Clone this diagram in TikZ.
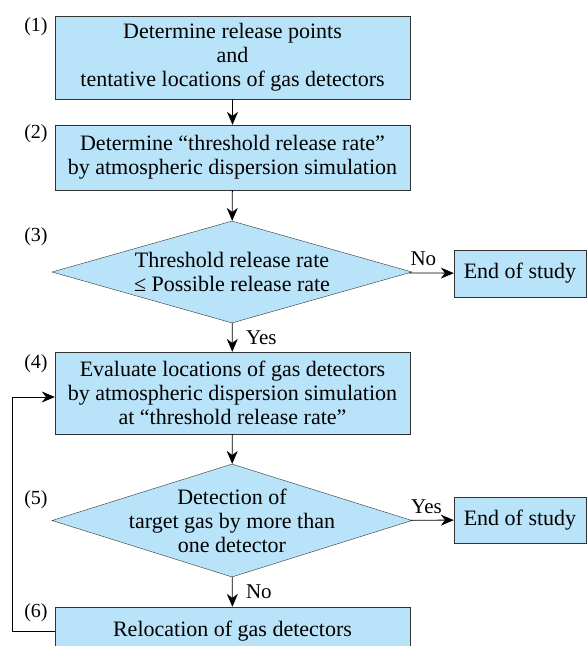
\documentclass[tikz,border=0pt]{standalone}
\usepackage{fontspec}
\setmainfont{Liberation Serif}
\usepackage{xcolor}
\usepackage{tikz}
\usetikzlibrary{positioning, arrows.meta, shapes.geometric}
\definecolor{boxblue}{HTML}{B9E3F8}
\definecolor{edgegray}{HTML}{333333}

\begin{document}
\begin{tikzpicture}[x=1pt, y=-1pt,
    stepbox/.style={draw=edgegray, fill=boxblue, rectangle, align=center, inner sep=0pt, minimum width=355pt, font=\fontsize{22}{24}\selectfont},
    decision/.style={draw=edgegray, fill=boxblue, diamond, inner sep=0pt, minimum width=360pt,
        label={[align=center, font=\fontsize{22}{24}\selectfont]center:#1}},
    endbox/.style={draw=edgegray, fill=boxblue, rectangle, align=center, inner sep=0pt, minimum width=132pt, font=\fontsize{22}{24}\selectfont},
    numlabel/.style={font=\fontsize{20}{22}\selectfont},
    answer/.style={font=\fontsize{21}{22}\selectfont},
    flow/.style={draw=black, line width=0.8pt, -{Stealth[length=13pt, width=11pt]}}]
        \useasboundingbox (0,0) rectangle (588,646);
        \clip (0,0) rectangle (588,646);
        % Steps of the study
        \node (release) [stepbox, minimum height=83pt] at (232.5,57.5) {Determine release points\\and\\tentative locations of gas detectors};
        \node (threshold) [stepbox, minimum height=65pt] at (232.5,157.5) {Determine “threshold release rate”\\by atmospheric dispersion simulation};
        \node (compare) [decision={Threshold release rate\\≤ Possible release rate}, minimum height=102pt] at (232,272) {};
        \node (endA) [endbox, minimum height=47pt] at (520,273.5) {End of study};
        \node (evaluate) [stepbox, minimum height=82pt] at (232.5,393) {Evaluate locations of gas detectors\\by atmospheric dispersion simulation\\at “threshold release rate”};
        \node (detect) [decision={Detection of\\target gas by more than\\one detector}, minimum height=113pt] at (232,520.5) {};
        \node (endB) [endbox, minimum height=46pt] at (520,520) {End of study};
        \node (relocate) [stepbox, minimum height=48pt] at (232.5,631) {Relocation of gas detectors};
        % Step numbers
        \node (n1) [numlabel] at (36,27) {(1)};
        \node (n2) [numlabel] at (36,134) {(2)};
        \node (n3) [numlabel] at (36,237) {(3)};
        \node (n4) [numlabel] at (36,364) {(4)};
        \node (n5) [numlabel] at (36,500) {(5)};
        \node (n6) [numlabel] at (36,613) {(6)};
        % Connectors
        \draw[flow] (release) -- (threshold);
        \draw[flow] (threshold) -- (compare);
        \draw[flow] (compare) -- (evaluate) node[midway, right, answer, xshift=10pt] {Yes};
        \draw[flow] (compare) -- (endA) node[midway, above, answer, xshift=-8pt, yshift=4pt] {No};
        \draw[flow] (evaluate) -- (detect);
        \draw[flow] (detect) -- (endB) node[midway, above, answer, xshift=-6pt, yshift=3pt] {Yes};
        \draw[flow] (detect) -- (relocate) node[midway, right, answer, xshift=10pt] {No};
        \draw[flow] (relocate.west) -- ++(-42,0) |- ([yshift=-4pt]evaluate.west);
    \end{tikzpicture}
\end{document}
